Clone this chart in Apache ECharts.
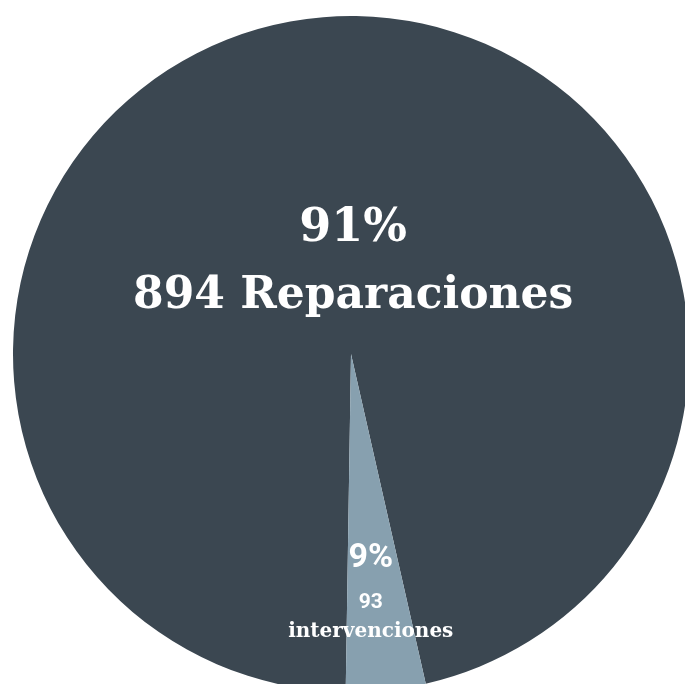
<!DOCTYPE html>
<html>
<head>
<meta charset="utf-8">
<script src="https://cdn.jsdelivr.net/npm/echarts@6/dist/echarts.min.js"></script>
<style>
  html, body { margin: 0; padding: 0; background: #ffffff; }
  #chart { width: 685px; height: 684px; }
</style>
</head>
<body>
<div id="chart"></div>
<script>
// Categories and label values as printed in the reference
const categories = ['Reparaciones', 'intervenciones'];
const counts = [894, 93];
const percentLabels = ['91%', '9%'];
// Slice sizes as they are drawn in the reference (angle share of the circle, %)
const sliceShares = [96.2, 3.8];
const colors = ['#3b4751', '#87a0af'];

const chart = echarts.init(document.getElementById('chart'), null, { renderer: 'canvas' });

const data = categories.map((name, i) => ({
  name: name,
  value: sliceShares[i],
  itemStyle: { color: colors[i] },
  label: i === 0
    ? {
        formatter: () => '{p|' + percentLabels[0] + '}\n{n|' + counts[0] + ' ' + categories[0] + '}',
        offset: [20, 77]
      }
    : {
        formatter: () => '{sp|' + percentLabels[1] + '}\n{sc|' + counts[1] + '}\n{sn|' + categories[1] + '}',
        offset: [2, 62]
      }
}));

chart.setOption({
  animation: false,
  series: [{
    type: 'pie',
    center: [351, 354],
    radius: 338,
    startAngle: 269.1,
    clockwise: true,
    avoidLabelOverlap: false,
    labelLine: { show: false },
    label: {
      show: true,
      position: 'inside',
      color: '#ffffff',
      align: 'center',
      rich: {
        p:  { fontFamily: 'DejaVu Serif', fontWeight: 'bold', fontSize: 46, lineHeight: 74, color: '#fff', align: 'center' },
        n:  { fontFamily: 'DejaVu Serif', fontWeight: 'bold', fontSize: 44, lineHeight: 62, color: '#fff', align: 'center' },
        sp: { fontFamily: 'Roboto', fontWeight: 'bold', fontSize: 34, lineHeight: 60, color: '#fff', align: 'center' },
        sc: { fontFamily: 'Roboto', fontWeight: 'bold', fontSize: 21, lineHeight: 30, color: '#fff', align: 'center' },
        sn: { fontFamily: 'DejaVu Serif', fontWeight: 'bold', fontSize: 20, lineHeight: 28, color: '#fff', align: 'center' }
      }
    },
    emphasis: { disabled: true },
    data: data
  }]
});
</script>
</body>
</html>
